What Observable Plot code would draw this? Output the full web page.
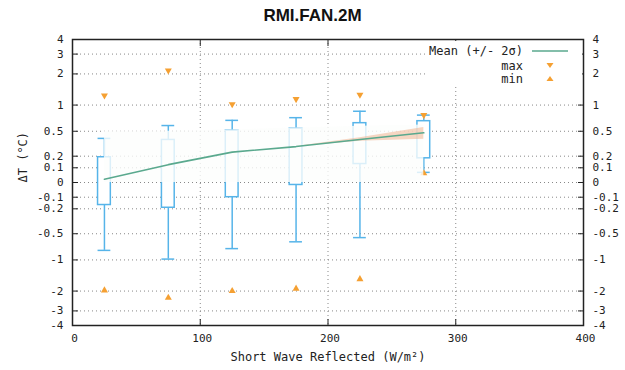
<!DOCTYPE html>
<html>
<head>
<meta charset="utf-8">
<script src="https://cdn.jsdelivr.net/npm/d3@7"></script>
<script src="https://cdn.jsdelivr.net/npm/@observablehq/plot@0.6"></script>
<style>
  html, body { margin: 0; padding: 0; background: #fff; }
  #wrap { position: relative; width: 625px; height: 370px; font-family: "DejaVu Sans Mono", monospace; }
  #title { position: absolute; left: 0; top: 6px; width: 625px; text-align: center;
           font: bold 17px "Liberation Sans", Arial, sans-serif; color: #111; }
  #legend { position: absolute; left: 425px; top: 41px; width: 157px; height: 46px; background: #fff;
            font-size: 12px; color: #222; }
  #legend .row { position: absolute; right: 59px; white-space: pre; line-height: 14px; }
  #legend svg { position: absolute; left: 0; top: 0; }
</style>
</head>
<body>
<div id="wrap">
  <div id="chart"></div>
  <div id="title">RMI.FAN.2M</div>
  <div id="legend">
    <div class="row" style="top:3px">Mean (+/- 2σ)</div>
    <div class="row" style="top:18px">max</div>
    <div class="row" style="top:31px">min</div>
    <svg width="157" height="46">
      <line x1="107" x2="143" y1="10" y2="10" stroke="#5aa98e" stroke-width="1.5"></line>
      <path d="M121.5,22 L128.5,22 L125,27 Z" fill="#f5a032"></path>
      <path d="M121.5,40 L128.5,40 L125,35 Z" fill="#f5a032"></path>
    </svg>
  </div>
</div>
<script>
// Categories (x centres of the bins, W/m²)
const binX = [25, 75, 125, 175, 225, 275];
// Box-plot statistics per bin (°C)
const whiskerHi = [0.40, 0.59, 0.68, 0.73, 0.86, 0.78];
const q3        = [0.19, 0.38, 0.51, 0.54, 0.63, 0.665];
const q1        = [-0.165, -0.19, -0.10, -0.015, 0.13, 0.18];
const whiskerLo = [-0.79, -0.98, -0.755, -0.63, -0.56, 0.066];
const meanT     = [0.02, 0.125, 0.24, 0.30, 0.385, 0.477];
const maxT      = [1.25, 2.15, 1.02, 1.15, 1.27, 0.78];
const minT      = [-1.97, -2.3, -2.0, -1.9, -1.55, 0.06];
// Fan (+/- 2σ) bands
const bandLo = [0, 0, 0, 0, 0, 0.01];
const bandHi = [0.5, 0.5, 0.52, 0.55, 0.58, 0.6];
const fanX  = [175, 225, 275];
const fanLo = [0.30, 0.365, 0.39];
const fanHi = [0.30, 0.41, 0.56];
// Tick labels
const yTicks = [-4, -3, -2, -1, -0.5, -0.2, -0.1, 0, 0.1, 0.2, 0.5, 1, 2, 3, 4];
const xTicks = [0, 100, 200, 300, 400];
const xInner = [100, 200, 300];
const halfW = 5;

const bins = binX.map((x, i) => ({
  x, hi: whiskerHi[i], q3: q3[i], q1: q1[i], lo: whiskerLo[i],
  mean: meanT[i], max: maxT[i], min: minT[i], bLo: bandLo[i], bHi: bandHi[i]
}));
const fan = fanX.map((x, i) => ({x, lo: fanLo[i], hi: fanHi[i]}));

const blue = "#56b4e9", orange = "#f5a032";
const chart = Plot.plot({
  width: 625, height: 370,
  marginTop: 39, marginBottom: 45, marginLeft: 72, marginRight: 42,
  x: {domain: [0, 400]},
  y: {type: "symlog", constant: 0.33, domain: [-4, 4]},
  style: {fontFamily: "DejaVu Sans Mono, monospace", fontSize: "11px", color: "#222", background: "transparent"},
  marks: [
    Plot.gridY(yTicks, {stroke: "#888", strokeOpacity: 1, strokeDasharray: "1,3"}),
    Plot.gridX(xInner, {stroke: "#888", strokeOpacity: 1, strokeDasharray: "1,3"}),
    Plot.ruleX(bins, {x: "x", y1: "q3", y2: "hi", stroke: blue, strokeWidth: 1.5}),
    Plot.ruleX(bins, {x: "x", y1: "q1", y2: "lo", stroke: blue, strokeWidth: 1.5}),
    Plot.ruleY(bins, {y: "hi", x1: d => d.x - halfW, x2: d => d.x + halfW, stroke: blue, strokeWidth: 1.5}),
    Plot.ruleY(bins, {y: "lo", x1: d => d.x - halfW, x2: d => d.x + halfW, stroke: blue, strokeWidth: 1.5}),
    Plot.rectY(bins, {x1: d => d.x - halfW, x2: d => d.x + halfW, y1: "q1", y2: "q3", fill: "#fff", stroke: blue, strokeWidth: 1.5}),
    Plot.dot(bins, {x: "x", y: "max", symbol: "triangle", rotate: 180, r: 2.6, fill: orange, stroke: "none"}),
    Plot.dot(bins, {x: "x", y: "min", symbol: "triangle", r: 2.6, fill: orange, stroke: "none"}),
    Plot.areaY(bins, {x: "x", y1: "bLo", y2: "bHi", fill: "#fcfefd", fillOpacity: 0.8}),
    Plot.areaY(fan, {x: "x", y1: "lo", y2: "hi", fill: "#f0ae88", fillOpacity: 0.5}),
    Plot.line(bins, {x: "x", y: "mean", stroke: "#5aa98e", strokeWidth: 1.6}),
    Plot.frame({stroke: "#222", strokeWidth: 1.5}),
    Plot.axisY(yTicks, {anchor: "left", tickSize: 6, dx: 6, tickPadding: 9, tickFormat: d => String(d), label: null}),
    Plot.axisY(yTicks, {anchor: "right", tickSize: 6, dx: -6, tickPadding: 9, tickFormat: d => String(d), label: null}),
    Plot.axisX(xInner, {anchor: "bottom", tickSize: 6, dy: -6, tickFormat: () => "", label: null}),
    Plot.axisX(xInner, {anchor: "top", tickSize: 6, dy: 6, tickFormat: () => "", label: null}),
    Plot.axisX(xTicks, {anchor: "bottom", tickSize: 0, tickPadding: 9, dx: 2, tickFormat: d => String(d), label: null}),
    Plot.text(["Short Wave Reflected (W/m²)"], {frameAnchor: "bottom", dy: 35, fontSize: 12}),
    Plot.text(["ΔT (°C)"], {frameAnchor: "left", rotate: -90, dx: -49, fontSize: 12})
  ]
});
document.getElementById("chart").appendChild(chart);
</script>
</body>
</html>
